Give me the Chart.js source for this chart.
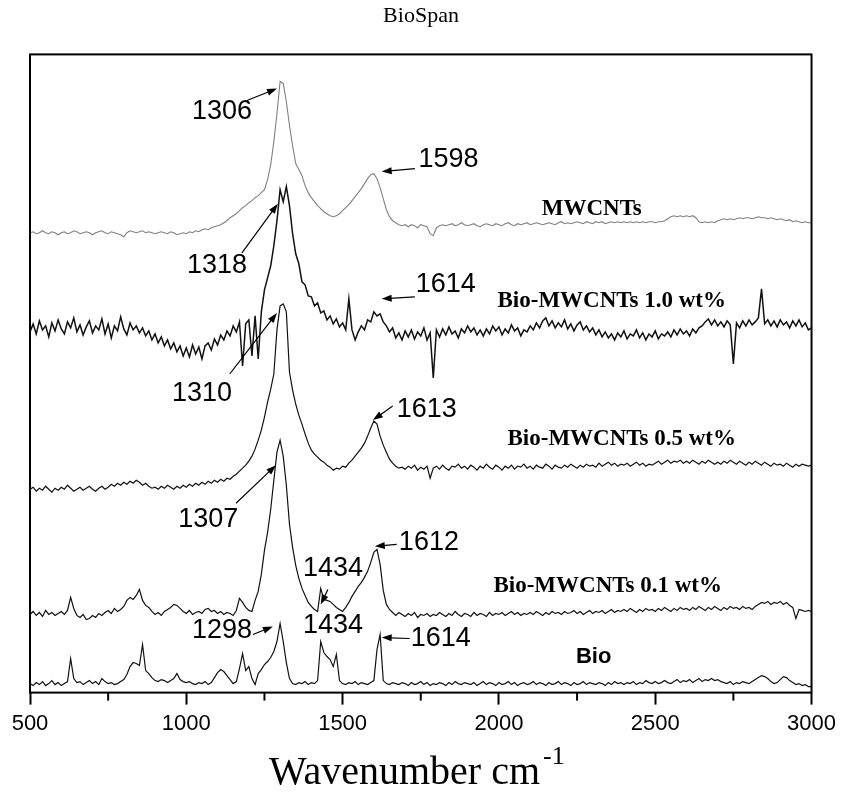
<!DOCTYPE html>
<html lang="en">
<head>
<meta charset="UTF-8">
<title>BioSpan Raman spectra</title>
<script src="https://cdn.jsdelivr.net/npm/chart.js"></script>
<style>
  html, body { margin: 0; padding: 0; background: #fff; }
  #myCanvas { display: block; }
</style>
</head>
<body>
<canvas id="myCanvas" width="842" height="796"></canvas>
<script>
// wavenumber grid, cm-1
const wavenumber = [
  500, 510, 520, 530, 540, 550, 560, 570, 580, 590,
  600, 610, 620, 630, 640, 650, 660, 670, 680, 690,
  700, 710, 720, 730, 740, 750, 760, 770, 780, 790,
  800, 810, 820, 830, 840, 850, 860, 870, 880, 890,
  900, 910, 920, 930, 940, 950, 960, 970, 980, 990,
  1000, 1010, 1020, 1030, 1040, 1050, 1060, 1070, 1080, 1090,
  1100, 1110, 1120, 1130, 1140, 1150, 1160, 1170, 1180, 1190,
  1200, 1210, 1220, 1230, 1240, 1250, 1260, 1270, 1280, 1290,
  1300, 1310, 1320, 1330, 1340, 1350, 1360, 1370, 1380, 1390,
  1400, 1410, 1420, 1430, 1440, 1450, 1460, 1470, 1480, 1490,
  1500, 1510, 1520, 1530, 1540, 1550, 1560, 1570, 1580, 1590,
  1600, 1610, 1620, 1630, 1640, 1650, 1660, 1670, 1680, 1690,
  1700, 1710, 1720, 1730, 1740, 1750, 1760, 1770, 1780, 1790,
  1800, 1810, 1820, 1830, 1840, 1850, 1860, 1870, 1880, 1890,
  1900, 1910, 1920, 1930, 1940, 1950, 1960, 1970, 1980, 1990,
  2000, 2010, 2020, 2030, 2040, 2050, 2060, 2070, 2080, 2090,
  2100, 2110, 2120, 2130, 2140, 2150, 2160, 2170, 2180, 2190,
  2200, 2210, 2220, 2230, 2240, 2250, 2260, 2270, 2280, 2290,
  2300, 2310, 2320, 2330, 2340, 2350, 2360, 2370, 2380, 2390,
  2400, 2410, 2420, 2430, 2440, 2450, 2460, 2470, 2480, 2490,
  2500, 2510, 2520, 2530, 2540, 2550, 2560, 2570, 2580, 2590,
  2600, 2610, 2620, 2630, 2640, 2650, 2660, 2670, 2680, 2690,
  2700, 2710, 2720, 2730, 2740, 2750, 2760, 2770, 2780, 2790,
  2800, 2810, 2820, 2830, 2840, 2850, 2860, 2870, 2880, 2890,
  2900, 2910, 2920, 2930, 2940, 2950, 2960, 2970, 2980, 2990,
  3000
];

// intensities (a.u., spectra stacked with offsets)
const mwcnt = [
  459, 460, 458, 459, 461, 459, 458, 460, 459, 457,
  459, 460, 458, 459, 461, 460, 458, 459, 460, 459,
  457, 459, 460, 461, 459, 458, 460, 459, 458, 457,
  455, 459, 461, 460, 459, 460, 461, 459, 460, 459,
  458, 459, 460, 459, 458, 460, 459, 457, 458, 459,
  458, 460, 459, 461, 460, 462, 463, 462, 464, 465,
  466, 467, 469, 471, 474, 476, 478, 481, 484, 486,
  489, 491, 494, 496, 499, 502, 512, 527, 550, 578,
  610, 608, 590, 566, 546, 528, 522, 516, 506, 499,
  494, 490, 486, 483, 480, 478, 476, 475, 476, 478,
  481, 484, 487, 491, 495, 499, 503, 508, 513, 517,
  518, 513, 504, 493, 482, 475, 471, 469, 467, 466,
  467, 465, 467, 466, 464, 467, 466, 465, 458, 456,
  464, 466, 467, 466, 467, 468, 466, 467, 469, 467,
  466, 467, 468, 466, 465, 467, 468, 467, 466, 468,
  467, 466, 468, 469, 467, 466, 468, 467, 468, 469,
  467, 468, 469, 468, 467, 468, 469, 468, 467, 469,
  470, 468, 469, 468, 469, 470, 469, 468, 470, 469,
  468, 470, 469, 470, 468, 469, 470, 469, 470, 469,
  470, 469, 470, 469, 470, 469, 470, 469, 470, 470,
  469, 470, 470, 471, 473, 475, 476, 475, 476, 475,
  476, 475, 476, 474, 470, 469, 470, 469, 470, 469,
  471, 472, 473, 472, 473, 472, 473, 474, 473, 474,
  474, 473, 474, 475, 474, 474, 473, 474, 473, 472,
  473, 472, 471, 472, 470, 471, 470, 469, 470, 469,
  469
];

const bio10 = [
  360, 368, 358, 371, 362, 366, 355, 369, 361, 372,
  363, 358, 370, 364, 374, 360, 367, 357, 365, 371,
  359, 366, 362, 373, 358, 368, 354, 366, 361, 375,
  363, 357, 369, 362, 366, 359, 364, 356, 361, 352,
  358, 349, 355, 346, 352, 343, 349, 340, 346, 336,
  344, 335, 347, 338, 345, 333, 346, 349, 342, 353,
  347, 357, 352, 361, 356, 366, 360, 370, 326, 368,
  372, 336, 376, 333, 380, 402, 414, 426, 446, 471,
  502, 490, 505, 486, 458, 438, 428, 410, 407, 396,
  395, 386, 389, 379, 381, 372, 376, 368, 373, 365,
  369, 362, 393, 362, 352, 360, 366, 362, 372, 370,
  380, 376, 378, 370, 366, 360, 364, 354, 359, 352,
  361, 355, 362, 353, 360, 356, 364, 352, 359, 314,
  362, 355, 363, 357, 365, 358, 361, 354, 363, 359,
  366, 360, 364, 357, 362, 356, 363, 358, 366, 361,
  365, 357, 363, 359, 367, 361, 364, 356, 362, 360,
  366, 362, 369, 364, 371, 374, 366, 371, 364, 369,
  365, 372, 363, 368, 361, 367, 370, 362, 366, 360,
  364, 357, 362, 355, 360, 354, 358, 352, 359, 355,
  361, 353, 358, 356, 362, 354, 359, 352, 358, 355,
  361, 353, 358, 356, 360, 355, 362, 357, 363, 358,
  361, 356, 363, 359, 364, 366, 370, 373, 367, 372,
  366, 370, 365, 371, 367, 328, 369, 364, 371, 366,
  372, 367, 370, 374, 403, 368, 372, 366, 371, 365,
  372, 367, 370, 364, 371, 366, 372, 365, 369, 362,
  364
];

const bio05 = [
  203, 205, 201, 204, 202, 206, 203, 200, 204, 202,
  205, 203, 207, 204, 201, 203, 205, 202, 204, 206,
  203, 201, 204, 206, 203, 205, 208, 206, 209, 207,
  210, 208, 211, 209, 212, 210, 207, 209, 206, 204,
  205, 203, 206, 204, 207, 205, 203, 206, 204, 207,
  205, 208, 206, 209, 207, 210, 208, 211, 209, 212,
  210, 213, 211, 214, 213, 216, 218, 221, 224, 227,
  231, 236, 243, 252, 262, 275, 290, 303, 318, 362,
  386, 388, 380, 320, 302, 288, 277, 268, 258, 249,
  242, 238, 235, 232, 230, 227, 225, 222, 224, 223,
  226, 225, 229, 232, 236, 240, 244, 249, 256, 264,
  271, 268, 256, 247, 240, 233, 229, 226, 224, 225,
  223, 226, 224, 227, 222, 225, 223, 226, 214, 224,
  226, 223, 227, 224, 222, 226, 225, 228, 224, 226,
  223, 227, 225, 222, 226, 224, 228, 225, 223, 227,
  225, 222, 226, 224, 227, 223, 226, 225, 228, 224,
  226, 223, 227, 225, 224, 228, 226, 223, 227, 225,
  224, 227, 225, 228, 226, 224, 227, 225, 228, 226,
  227, 225, 229, 226, 228, 230, 227, 229, 226, 228,
  227, 229, 226, 228, 230, 227, 229, 226, 228, 227,
  229, 231, 228, 230, 232, 229, 231, 230, 232, 229,
  231, 229, 232, 230, 228, 231, 229, 232, 230, 228,
  230, 228, 231, 229, 232, 230, 228, 231, 229, 227,
  230, 228, 231, 229, 227, 230, 228, 226, 229, 227,
  228, 226, 229, 227, 225, 228, 226, 228, 227, 226,
  227
];

const bio01 = [
  78, 81, 77, 80, 76, 82, 78, 80, 77, 79,
  81, 78, 82, 95, 84, 77, 75, 78, 73, 74,
  77, 75, 79, 77, 80, 82, 79, 84, 81, 83,
  86, 92, 95, 93, 97, 103, 92, 87, 85, 81,
  78, 80, 77, 81, 83, 85, 88, 87, 84, 81,
  79, 82, 78, 80, 81, 79, 83, 84, 81, 82,
  79, 81, 78, 80, 79, 77, 82, 94, 90, 85,
  82, 81, 92, 101, 118, 142, 160, 183, 212, 240,
  252, 236, 207, 168, 145, 127, 114, 104, 97, 90,
  86, 83, 81, 104, 93, 92, 91, 88, 85, 83,
  81, 85, 90, 96, 101, 106, 110, 115, 121, 130,
  140, 143, 128, 102, 88, 83, 80, 77, 80, 78,
  76, 79, 77, 80, 75, 78, 77, 79, 76, 78,
  77, 80, 78, 76, 79, 77, 81, 78, 76, 79,
  78, 76, 80, 77, 79, 78, 76, 80, 77, 79,
  78, 80, 77, 79, 81, 78, 80, 77, 79, 78,
  80, 78, 81, 79, 77, 80, 78, 81, 79, 80,
  78, 81, 79, 80, 82, 79, 81, 78, 80, 82,
  79, 81, 80, 82, 79, 81, 83, 80, 82, 81,
  83, 81, 84, 82, 80, 83, 81, 84, 82, 83,
  81, 84, 82, 85, 83, 81, 84, 82, 85, 83,
  84, 82, 85, 83, 86, 84, 82, 85, 83, 86,
  84, 82, 85, 83, 86, 84, 85, 83, 86, 84,
  85, 83, 86, 88, 90, 89, 91, 88, 90, 89,
  91, 88, 90, 87, 85, 74, 83, 82, 81, 82,
  81
];

const bio = [
  9, 7, 10, 8, 11, 7, 9, 12, 8, 10,
  7, 9, 11, 34, 14, 10, 11, 8, 10, 12,
  9, 11, 8, 14, 11, 9, 10, 8, 9, 11,
  13, 18, 26, 30, 29, 27, 48, 22, 19, 15,
  12, 11, 13, 12, 10, 12, 14, 19, 13, 11,
  10, 11, 9, 8, 10, 9, 11, 8, 10, 15,
  20, 23, 21, 17, 13, 9, 11, 24, 39, 22,
  26, 14, 8, 19, 23, 28, 31, 35, 41, 51,
  69, 51, 30, 14, 9, 8, 10, 9, 11, 8,
  10, 9, 12, 51, 40, 36, 33, 26, 38, 12,
  9, 8, 10, 9, 11, 8, 10, 9, 8, 10,
  12, 43, 58, 12, 9, 8, 10, 9, 8, 10,
  9, 7, 10, 8, 9, 11, 8, 10, 7, 9,
  8, 10, 9, 7, 10, 8, 11, 9, 8, 10,
  9, 8, 10, 7, 9, 11, 8, 10, 9, 7,
  10, 8, 9, 11, 8, 10, 7, 9, 10, 8,
  9, 11, 8, 10, 9, 7, 10, 8, 9, 11,
  8, 10, 9, 7, 10, 8, 9, 11, 8, 10,
  9, 8, 10, 9, 7, 10, 8, 11, 9, 10,
  8, 10, 9, 11, 8, 10, 9, 12, 10, 9,
  11, 9, 10, 12, 10, 9, 11, 13, 10, 12,
  11, 13, 10, 12, 14, 11, 13, 12, 14, 12,
  13, 11, 10, 9, 11, 8, 10, 9, 11, 10,
  9, 11, 13, 15, 17, 16, 14, 11, 9, 10,
  13, 16, 15, 12, 10, 8, 9, 7, 8, 6,
  6
];

const sampleNames = ['MWCNTs', 'Bio-MWCNTs 1.0 wt%', 'Bio-MWCNTs 0.5 wt%', 'Bio-MWCNTs 0.1 wt%', 'Bio'];
const xMinorTicks = [750, 1250, 1750, 2250, 2750];

// peak labels (data units: wavenumber, intensity)
const peakText = ['1306', '1598', '1318', '1614', '1310', '1613', '1307', '1434', '1612', '1298', '1434', '1614'];
const peakTextAt = [[1114, 580], [1839, 532], [1098, 426], [1830, 407], [1050, 298], [1769, 283],
                    [1070, 173], [1469, 124], [1776, 150], [1114, 62], [1469, 67], [1814, 54]];
const arrowFrom = [[1194, 591], [1731, 523], [1178, 439], [1731, 395], [1139, 318], [1660, 286],
                   [1159, 189], [1453, 103], [1673, 148], [1213, 58], null, [1715, 54]];
const arrowTo = [[1290, 603], [1625, 520], [1293, 488], [1625, 393], [1290, 379], [1597, 272],
                 [1287, 227], [1430, 88], [1603, 146], [1277, 66], null, [1625, 55]];
// sample names next to each trace
const sampleTextAt = [[2297, 483], [2361, 391], [2393, 253], [2348, 106], [2303, 36]];

function pontos(serie) {
    return wavenumber.map(function (x, i) { return { x: x, y: serie[i] }; });
}

function seta(ctx, x1, y1, x2, y2) {
    const ang = Math.atan2(y2 - y1, x2 - x1);
    const len = 10, w = 3.5;
    ctx.beginPath();
    ctx.moveTo(x1, y1);
    ctx.lineTo(x2 - len * 0.8 * Math.cos(ang), y2 - len * 0.8 * Math.sin(ang));
    ctx.stroke();
    ctx.beginPath();
    ctx.moveTo(x2, y2);
    ctx.lineTo(x2 - len * Math.cos(ang) + w * Math.sin(ang), y2 - len * Math.sin(ang) - w * Math.cos(ang));
    ctx.lineTo(x2 - len * Math.cos(ang) - w * Math.sin(ang), y2 - len * Math.sin(ang) + w * Math.cos(ang));
    ctx.closePath();
    ctx.fill();
}

// frame, minor ticks, annotations and the axis title with superscript
const extras = {
    id: 'extras',
    afterDraw(chart) {
        const ctx = chart.ctx;
        const a = chart.chartArea;
        const x = chart.scales.x, y = chart.scales.y;
        ctx.save();
        ctx.strokeStyle = '#000';
        ctx.fillStyle = '#000';
        ctx.lineWidth = 2;
        ctx.strokeRect(a.left, a.top, a.right - a.left, a.bottom - a.top);

        xMinorTicks.forEach(function (v) {
            const px = x.getPixelForValue(v);
            ctx.beginPath();
            ctx.moveTo(px, a.bottom);
            ctx.lineTo(px, a.bottom + 8);
            ctx.stroke();
        });

        ctx.lineWidth = 1.2;
        ctx.textAlign = 'center';
        ctx.textBaseline = 'middle';
        ctx.font = '27px "Liberation Sans", Arial, sans-serif';
        for (let i = 0; i < peakText.length; i++) {
            ctx.fillText(peakText[i], x.getPixelForValue(peakTextAt[i][0]), y.getPixelForValue(peakTextAt[i][1]));
            if (arrowFrom[i]) {
                seta(ctx,
                    x.getPixelForValue(arrowFrom[i][0]), y.getPixelForValue(arrowFrom[i][1]),
                    x.getPixelForValue(arrowTo[i][0]), y.getPixelForValue(arrowTo[i][1]));
            }
        }

        for (let i = 0; i < sampleNames.length; i++) {
            ctx.font = sampleNames[i] === 'Bio'
                ? 'bold 22px "Liberation Sans", Arial, sans-serif'
                : 'bold 23px "Liberation Serif", "Times New Roman", serif';
            ctx.fillText(sampleNames[i], x.getPixelForValue(sampleTextAt[i][0]), y.getPixelForValue(sampleTextAt[i][1]));
        }

        // x axis title: Wavenumber cm^-1
        const base = 'Wavenumber cm';
        const sup = '-1';
        ctx.textAlign = 'left';
        ctx.textBaseline = 'alphabetic';
        ctx.font = '40px "Liberation Serif", "Times New Roman", serif';
        const wBase = ctx.measureText(base).width;
        ctx.font = '26px "Liberation Serif", "Times New Roman", serif';
        const wSup = ctx.measureText(sup).width;
        const cx = (a.left + a.right) / 2 - 4;
        const x0 = cx - (wBase + wSup + 3) / 2;
        ctx.font = '40px "Liberation Serif", "Times New Roman", serif';
        ctx.fillText(base, x0, 784);
        ctx.font = '26px "Liberation Serif", "Times New Roman", serif';
        ctx.fillText(sup, x0 + wBase + 3, 764);
        ctx.restore();
    }
};

const dados = {
    datasets: [
        { label: sampleNames[0], data: pontos(mwcnt), borderColor: '#808080', borderWidth: 1.1 },
        { label: sampleNames[1], data: pontos(bio10), borderColor: '#111111', borderWidth: 1.5 },
        { label: sampleNames[2], data: pontos(bio05), borderColor: '#111111', borderWidth: 1.2 },
        { label: sampleNames[3], data: pontos(bio01), borderColor: '#111111', borderWidth: 1.2 },
        { label: sampleNames[4], data: pontos(bio), borderColor: '#111111', borderWidth: 1.2 }
    ]
};
dados.datasets.forEach(function (d) {
    d.pointRadius = 0;
    d.tension = 0;
    d.fill = false;
});

const config = {
    type: 'line',
    data: dados,
    options: {
        responsive: false,
        animation: false,
        devicePixelRatio: 1,
        layout: { padding: { left: 30, right: 30, top: 0, bottom: 53 } },
        scales: {
            x: {
                type: 'linear',
                min: 500,
                max: 3000,
                border: { display: false },
                grid: { drawOnChartArea: false, tickLength: 12, tickWidth: 2, tickColor: '#000' },
                ticks: {
                    stepSize: 500,
                    padding: 6,
                    color: '#000',
                    font: { family: '"Liberation Sans", Arial, sans-serif', size: 22 },
                    maxRotation: 0,
                    callback: function (v) { return String(v); }
                }
            },
            y: {
                display: false,
                min: 0,
                max: 637
            }
        },
        plugins: {
            legend: { display: false },
            tooltip: { enabled: false },
            title: {
                display: true,
                text: 'BioSpan',
                color: '#000',
                font: { family: '"Liberation Serif", "Times New Roman", serif', size: 22, weight: 'normal' },
                padding: { top: 3, bottom: 25 }
            }
        }
    },
    plugins: [extras]
};

const myChart = new Chart(document.getElementById('myCanvas'), config);
</script>
</body>
</html>
